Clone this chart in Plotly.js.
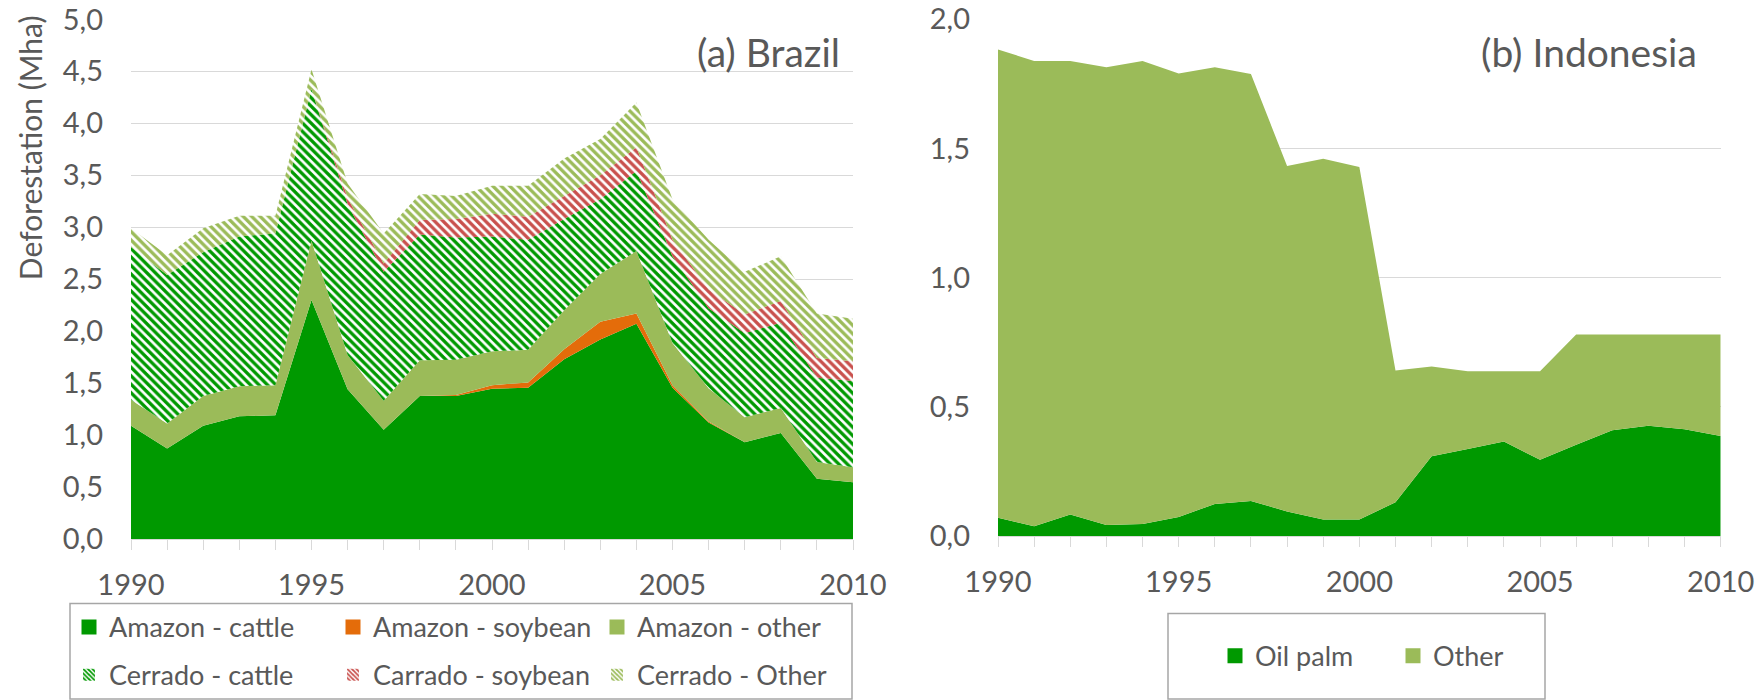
<!DOCTYPE html>
<html>
<head>
<meta charset="utf-8">
<script src="https://cdn.plot.ly/plotly-3.0.1.min.js"></script>
<style>
html,body{margin:0;padding:0;background:#ffffff;}
#chart{width:1761px;height:700px;}
</style>
</head>
<body>
<div id="chart"></div>
<script>
// ---------- data ----------
const years = [1990,1991,1992,1993,1994,1995,1996,1997,1998,1999,2000,2001,2002,2003,2004,2005,2006,2007,2008,2009,2010];

// (a) Brazil, Mha
const amazonCattle  = [1.09,0.87,1.09,1.18,1.19,2.30,1.44,1.05,1.375,1.375,1.445,1.455,1.73,1.92,2.07,1.455,1.12,0.93,1.02,0.58,0.545];
const amazonSoybean = [0,0,0,0,0,0,0,0,0,0.01,0.035,0.05,0.095,0.17,0.10,0.025,0.01,0,0,0,0];
const amazonOther   = [0.25,0.24,0.285,0.29,0.29,0.57,0.33,0.28,0.345,0.34,0.325,0.315,0.375,0.46,0.60,0.405,0.32,0.24,0.24,0.16,0.145];
const cerradoCattle = [1.47,1.43,1.385,1.44,1.46,1.46,1.45,1.24,1.21,1.175,1.105,1.06,0.88,0.72,0.77,0.835,0.77,0.81,0.82,0.81,0.83];
const cerradoSoybean= [0,0,0,0,0,0,0.06,0.08,0.14,0.18,0.22,0.22,0.22,0.23,0.23,0.16,0.18,0.18,0.21,0.19,0.19];
const cerradoOther  = [0.18,0.19,0.23,0.20,0.17,0.19,0.14,0.29,0.25,0.22,0.27,0.30,0.36,0.35,0.43,0.39,0.48,0.41,0.43,0.43,0.41];

// (b) Indonesia, Mha
const oilPalm    = [0.07,0.037,0.083,0.042,0.046,0.073,0.124,0.135,0.095,0.064,0.064,0.13,0.308,0.336,0.365,0.295,0.353,0.409,0.426,0.413,0.387];
const otherIndo  = [1.813,1.801,1.755,1.772,1.792,1.717,1.69,1.653,1.337,1.396,1.364,0.51,0.348,0.301,0.272,0.342,0.427,0.371,0.354,0.367,0.393];

const brazilNames = ['Amazon - cattle','Amazon - soybean','Amazon - other','Cerrado - cattle','Carrado - soybean','Cerrado - Other'];
const indoNames = ['Oil palm','Other'];
const yTickVals = [0,0.5,1,1.5,2,2.5,3,3.5,4,4.5,5];
const yTickValsIndo = [0,0.5,1,1.5,2];

// ---------- styling ----------
const W = 1761, H = 700;
const fx = p => p / W;
const fy = p => 1 - p / H;
const FONT = 'Lato, "Open Sans", sans-serif';
const TXT = '#595959';
const GRID = '#d9d9d9';
const DARK = '#009900';
const OLIVE = '#9BBB59';
const ORANGE = '#E46C0A';
const RED = '#C9504D';

function solidArea(x, y, name, color, xa, ya, grp) {
  return {type:'scatter', x:x, y:y, name:name, mode:'none', stackgroup:grp,
          fillcolor:color, xaxis:xa, yaxis:ya, showlegend:false, hoverinfo:'skip'};
}
function hatchArea(x, y, name, color, xa, ya, grp) {
  return {type:'scatter', x:x, y:y, name:name, mode:'none', stackgroup:grp,
          fillcolor:'#ffffff',
          fillpattern:{shape:'\\', fgcolor:color, bgcolor:'#ffffff', size:6, solidity:0.55},
          xaxis:xa, yaxis:ya, showlegend:false, hoverinfo:'skip'};
}
function solidKey(name, color, leg) {
  return {type:'bar', x:[null], y:[null], name:name, legend:leg, xaxis:'x', yaxis:'y',
          marker:{color:color, line:{color:color, width:3}}, hoverinfo:'skip'};
}
function hatchKey(name, color, leg) {
  return {type:'bar', x:[null], y:[null], name:name, legend:leg, xaxis:'x', yaxis:'y',
          marker:{color:'#ffffff', line:{width:0},
                  pattern:{shape:'\\', fgcolor:color, bgcolor:'#ffffff', size:4, solidity:0.55}},
          hoverinfo:'skip'};
}

const traces = [
  solidArea(years, amazonCattle,  brazilNames[0], DARK,   'x', 'y', 'br'),
  solidArea(years, amazonSoybean, brazilNames[1], ORANGE, 'x', 'y', 'br'),
  solidArea(years, amazonOther,   brazilNames[2], OLIVE,  'x', 'y', 'br'),
  hatchArea(years, cerradoCattle, brazilNames[3], DARK,   'x', 'y', 'br'),
  hatchArea(years, cerradoSoybean,brazilNames[4], RED,    'x', 'y', 'br'),
  hatchArea(years, cerradoOther,  brazilNames[5], OLIVE,  'x', 'y', 'br'),
  solidArea(years, oilPalm,   indoNames[0], DARK,  'x2', 'y2', 'id'),
  solidArea(years, otherIndo, indoNames[1], OLIVE, 'x2', 'y2', 'id'),
  // legend keys
  solidKey(brazilNames[0], DARK, 'legend'),
  solidKey(brazilNames[1], ORANGE, 'legend'),
  solidKey(brazilNames[2], OLIVE, 'legend'),
  hatchKey(brazilNames[3], DARK, 'legend2'),
  hatchKey(brazilNames[4], RED, 'legend2'),
  hatchKey(brazilNames[5], OLIVE, 'legend2'),
  solidKey(indoNames[0], DARK, 'legend3'),
  solidKey(indoNames[1], OLIVE, 'legend3')
];

const xaxisBase = {
  range:[1990,2010], tickmode:'linear', tick0:1990, dtick:5, tickformat:'d',
  ticks:'outside', ticklen:10, tickcolor:GRID, tickwidth:1,
  minor:{dtick:1, tick0:1990, ticks:'outside', ticklen:10, tickcolor:GRID, tickwidth:1, showgrid:false},
  showline:true, linecolor:GRID, linewidth:1, showgrid:false, zeroline:false,
  tickfont:{family:FONT, size:29, color:TXT}, ticklabelstandoff:10, fixedrange:true
};
const yaxisBase = {
  tickformat:'.1f', ticks:'', showline:false, zeroline:false,
  showgrid:true, gridcolor:GRID, gridwidth:1,
  tickfont:{family:FONT, size:29, color:TXT}, ticklabelstandoff:27, fixedrange:true
};

const legendBase = {
  orientation:'h', xanchor:'left', yanchor:'middle', bgcolor:'rgba(0,0,0,0)', borderwidth:0,
  font:{family:FONT, size:27, color:TXT}, traceorder:'normal', itemclick:false, itemdoubleclick:false,
  entrywidthmode:'pixels', xref:'paper', yref:'paper'
};

const layout = {
  width:W, height:H,
  margin:{l:0, r:0, t:0, b:0},
  paper_bgcolor:'#ffffff', plot_bgcolor:'#ffffff',
  separators:', ',
  showlegend:true,
  xaxis:Object.assign({}, xaxisBase, {domain:[fx(131), fx(853)], anchor:'y'}),
  yaxis:Object.assign({}, yaxisBase, {domain:[fy(542), fy(19.5)], range:[0,5], tickvals:yTickVals, anchor:'x'}),
  xaxis2:Object.assign({}, xaxisBase, {domain:[fx(998), fx(1720.7)], anchor:'y2'}),
  yaxis2:Object.assign({}, yaxisBase, {domain:[fy(539), fy(19.3)], range:[0,2], tickvals:yTickValsIndo, anchor:'x2'}),
  legend:Object.assign({}, legendBase, {x:fx(69), y:fy(631), entrywidth:219}),
  legend2:Object.assign({}, legendBase, {x:fx(69), y:fy(679), entrywidth:219}),
  legend3:Object.assign({}, legendBase, {x:fx(1215), y:fy(660), entrywidth:133}),
  shapes:[
    {type:'rect', xref:'paper', yref:'paper', x0:fx(70), x1:fx(852), y0:fy(703), y1:fy(607),
     line:{color:'#a6a6a6', width:1.5}, fillcolor:'rgba(0,0,0,0)', layer:'above'},
    {type:'rect', xref:'paper', yref:'paper', x0:fx(1168), x1:fx(1545), y0:fy(703), y1:fy(617),
     line:{color:'#a6a6a6', width:1.5}, fillcolor:'rgba(0,0,0,0)', layer:'above'}
  ],
  annotations:[
    {text:'Deforestation (Mha)', xref:'paper', yref:'paper', x:fx(30), y:fy(149),
     xanchor:'center', yanchor:'middle', textangle:-90, showarrow:false,
     font:{family:FONT, size:30, color:TXT}},
    {text:'(a) Brazil', xref:'paper', yref:'paper', x:fx(842), y:fy(52),
     xanchor:'right', yanchor:'middle', showarrow:false,
     font:{family:FONT, size:39, color:TXT}},
    {text:'(b) Indonesia', xref:'paper', yref:'paper', x:fx(1699), y:fy(52),
     xanchor:'right', yanchor:'middle', showarrow:false,
     font:{family:FONT, size:39, color:TXT}}
  ]
};

Plotly.newPlot('chart', traces, layout, {displayModeBar:false, staticPlot:true});
</script>
</body>
</html>
